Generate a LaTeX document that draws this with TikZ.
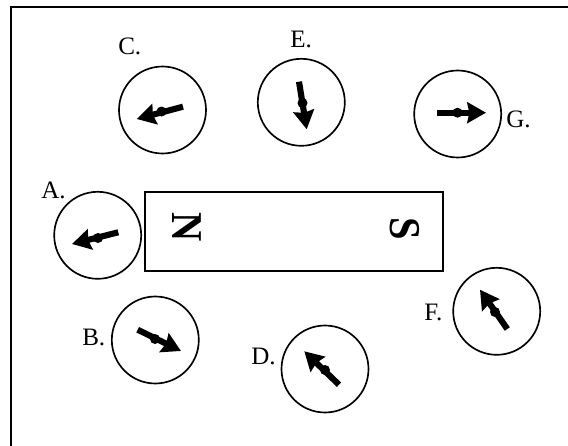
\documentclass[tikz,border=0pt]{standalone}
\usepackage{fontspec}
\setmainfont{Liberation Serif}
\usetikzlibrary{arrows.meta}
\tikzset{
  x=0.75pt,y=-0.75pt,
  compass/.style={circle,draw,line width=1.25pt,minimum size=65.25pt,inner sep=0pt,outer sep=0pt},
  needle/.style={line width=4.6pt,-{Stealth[length=14pt,width=15.5pt,inset=1.5pt]}},
  hub/.style={circle,fill,inner sep=0pt,minimum size=7.5pt},
  lbl/.style={font=\fontsize{18.8}{20}\selectfont,inner sep=0pt},
  pole/.style={font=\fontsize{33}{34}\selectfont\bfseries,inner sep=0pt,rotate=-90},
}
\newcommand{\needleat}[8]{%
  \node[compass] (#1) at (#2,#3) {};
  \coordinate (#1t) at (#4,#5);
  \coordinate (#1h) at (#6,#7);
  \draw[needle] (#1t) -- (#1h);
  \node[hub] (#1p) at (#8) {};
}
\begin{document}
\begin{tikzpicture}
\useasboundingbox (0,0) rectangle (568,446);
\coordinate (fa) at (11,446);
\coordinate (fb) at (11,6.7);
\coordinate (fc) at (568,6.7);
\draw[line width=1.8pt] (fa) -- (fb) -- (fc);
\node[draw,line width=1.3pt,minimum width=223.5pt,minimum height=59.4pt,inner sep=0pt,outer sep=0pt] (magnet) at (294.2,231.7) {};
\node[pole] (nn) at (187,227.5) {\scalebox{.92}[1]{N}};
\node[pole] (ss) at (404.5,228.5) {\scalebox{.92}[1]{S}};
\needleat{c}{162.5}{110}{183}{106.7}{136.7}{119}{161.5,111.5}
\needleat{e}{301.3}{102.3}{299}{81.7}{306.7}{129.3}{302.5,103}
\needleat{g}{457.7}{114}{437.3}{112.7}{486}{112.7}{457.5,112.7}
\needleat{a}{97.7}{235.3}{118.3}{232.3}{72}{244}{98,238}
\needleat{b}{155.3}{340}{137.7}{329.7}{181}{351}{155,339}
\needleat{d}{325}{369}{339}{384.7}{304.3}{351.3}{325,370}
\needleat{f}{496.7}{311.3}{507.3}{329}{480}{289.7}{495,312}
\node[lbl,anchor=base west] (lc) at (118,55) {C.};
\node[lbl,anchor=base west] (le) at (290,47) {E.};
\node[lbl,anchor=base west] (lg) at (506,127) {G.};
\node[lbl,anchor=base west] (la) at (41,198) {A.};
\node[lbl,anchor=base west] (lb) at (82,345.5) {B.};
\node[lbl,anchor=base west] (ld) at (251,364.5) {D.};
\node[lbl,anchor=base west] (lf) at (424,320) {F.};
\end{tikzpicture}
\end{document}
